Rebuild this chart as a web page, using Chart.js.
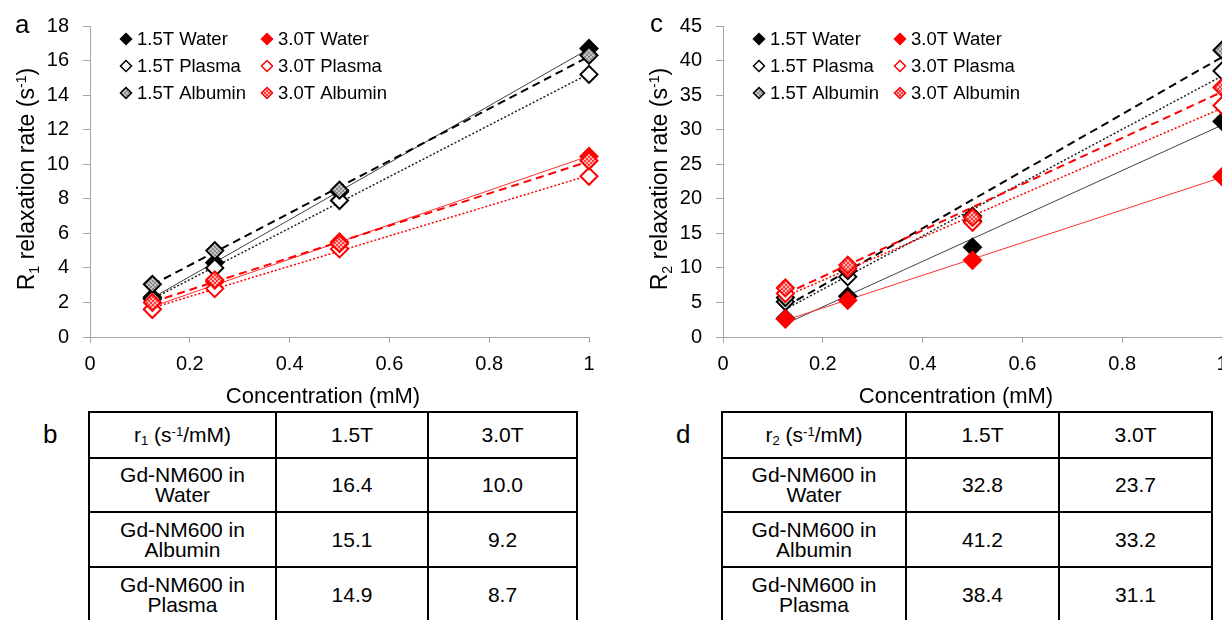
<!DOCTYPE html>
<html>
<head>
<meta charset="utf-8">
<title>Gd-NM600 relaxivity</title>
<script src="https://cdn.jsdelivr.net/npm/chart.js@4.4.1/dist/chart.umd.min.js"></script>
<style>
  html, body { margin: 0; padding: 0; background: #fff; }
  body { position: relative; width: 1222px; height: 620px; overflow: hidden;
         font-family: "Liberation Sans", Arial, sans-serif; color: #000; }
  .plot { position: absolute; top: 0; }
  .tag { position: absolute; font-size: 26px; line-height: 26px; }
  table.rates { position: absolute; border-collapse: collapse; table-layout: fixed; font-size: 21px; }
  table.rates td { border: 2px solid #000; text-align: center; vertical-align: middle;
                   padding: 0; line-height: 20px; overflow: hidden; }
  sub, sup { font-size: 0.62em; line-height: 0; }
  sup { vertical-align: 0.5em; }
  sub { vertical-align: -0.25em; }
</style>
</head>
<body>
<canvas id="chartR1" class="plot" style="left:0px" width="620" height="410"></canvas>
<canvas id="chartR2" class="plot" style="left:633px" width="620" height="410"></canvas>
<div class="tag" style="left:15px;top:11px">a</div>
<div class="tag" style="left:650px;top:10px">c</div>
<div class="tag" style="left:43px;top:421px">b</div>
<div class="tag" style="left:676px;top:421px">d</div>
<table class="rates" id="tableR1" style="left:88px;top:411px;width:488px"></table>
<table class="rates" id="tableR2" style="left:721px;top:411px;width:490px"></table>
<script>
// Gd-NM600 concentrations (mM)
const concentration = [0.125, 0.25, 0.5, 1];
const seriesNames = ['1.5T Water', '1.5T Plasma', '1.5T Albumin', '3.0T Water', '3.0T Plasma', '3.0T Albumin'];

// Longitudinal relaxation rate R1 (s^-1)
const r1Water15   = [2.3, 4.3, 8.4, 16.7];
const r1Plasma15  = [2.2, 4.0, 7.9, 15.2];
const r1Albumin15 = [3.05, 5.0, 8.5, 16.3];
const r1Water30   = [1.6, 3.2, 5.5, 10.45];
const r1Plasma30  = [1.6, 2.8, 5.1, 9.3];
const r1Albumin30 = [2.0, 3.3, 5.4, 10.2];

// Transverse relaxation rate R2 (s^-1)
const r2Water15   = [2.7, 5.9, 13.0, 31.2];
const r2Plasma15  = [5.1, 8.7, 16.8, 38.5];
const r2Albumin15 = [5.7, 9.6, 17.5, 41.5];
const r2Water30   = [2.6, 5.3, 11.1, 23.2];
const r2Plasma30  = [6.3, 9.9, 16.6, 33.5];
const r2Albumin30 = [7.1, 10.4, 17.3, 36.1];

// Axis tick labels
const xTickLabels  = ['0', '0.2', '0.4', '0.6', '0.8', '1'];
const r1TickLabels = ['0', '2', '4', '6', '8', '10', '12', '14', '16', '18'];
const r2TickLabels = ['0', '5', '10', '15', '20', '25', '30', '35', '40', '45'];

// Relaxivity tables (s^-1/mM)
const fieldLabels = ['1.5T', '3.0T'];
const tableMedia  = ['Water', 'Albumin', 'Plasma'];
const r1At15T = [16.4, 15.1, 14.9];
const r1At30T = [10.0, 9.2, 8.7];
const r2At15T = [32.8, 41.2, 38.4];
const r2At30T = [23.7, 33.2, 31.1];

const FONT = '"Liberation Sans", Arial, sans-serif';

function dither(base, dot) {
  const c = document.createElement('canvas');
  c.width = 4; c.height = 4;
  const g = c.getContext('2d');
  g.fillStyle = base; g.fillRect(0, 0, 4, 4);
  g.fillStyle = dot; g.fillRect(0, 0, 2, 2); g.fillRect(2, 2, 2, 2);
  return g.createPattern(c, 'repeat');
}

const grayFill = dither('#c4c4c4', '#8c8c8c');
const pinkFill = dither('#ffb4b4', '#ff3a3a');

// marker + trendline look per series
const looks = [
  { fill: '#000000', edge: '#000000', line: '#404040', width: 1,   dash: [] },
  { fill: '#ffffff', edge: '#000000', line: '#202020', width: 1.5, dash: [2, 2] },
  { fill: grayFill,  edge: '#000000', line: '#000000', width: 2,   dash: [8, 5] },
  { fill: '#ff0000', edge: '#ff0000', line: '#ff3030', width: 1,   dash: [] },
  { fill: '#ffffff', edge: '#ff0000', line: '#ff0000', width: 1.5, dash: [2, 2] },
  { fill: pinkFill,  edge: '#ff0000', line: '#ff0000', width: 2,   dash: [8, 5] }
];

function fitLine(xs, ys) {
  const n = xs.length;
  const mx = xs.reduce((a, b) => a + b, 0) / n;
  const my = ys.reduce((a, b) => a + b, 0) / n;
  let sxy = 0, sxx = 0;
  for (let i = 0; i < n; i++) { sxy += (xs[i] - mx) * (ys[i] - my); sxx += (xs[i] - mx) ** 2; }
  const slope = sxy / sxx;
  return { slope, intercept: my - slope * mx };
}

function diamond(ctx, x, y, r, fill, edge, lw) {
  ctx.beginPath();
  ctx.moveTo(x, y - r); ctx.lineTo(x + r, y); ctx.lineTo(x, y + r); ctx.lineTo(x - r, y);
  ctx.closePath();
  ctx.fillStyle = fill; ctx.fill();
  ctx.lineWidth = lw; ctx.strokeStyle = edge; ctx.stroke();
}

// text with sub/superscript pieces, centred on the current origin
function richText(ctx, parts, size) {
  const widths = parts.map(p => {
    ctx.font = `${(p.sub || p.sup) ? size * 0.62 : size}px ${FONT}`;
    return ctx.measureText(p.t).width;
  });
  const total = widths.reduce((a, b) => a + b, 0);
  let x = -total / 2;
  const base = size * 0.36;
  ctx.textAlign = 'left';
  ctx.textBaseline = 'alphabetic';
  parts.forEach((p, i) => {
    ctx.font = `${(p.sub || p.sup) ? size * 0.62 : size}px ${FONT}`;
    const dy = p.sub ? size * 0.22 : p.sup ? -size * 0.38 : 0;
    ctx.fillText(p.t, x, base + dy);
    x += widths[i];
  });
}

function decorations(yTitle) {
  return {
    id: 'decorations',
    afterDraw(chart) {
      const ctx = chart.ctx;
      ctx.save();
      ctx.fillStyle = '#000';
      // axis titles
      ctx.save();
      ctx.translate(323, 395);
      richText(ctx, [{ t: 'Concentration (mM)' }], 22);
      ctx.restore();
      ctx.save();
      ctx.translate(26, 179);
      ctx.rotate(-Math.PI / 2);
      richText(ctx, yTitle, 23);
      ctx.restore();
      // legend: two columns, three rows
      const colMarker = [126, 267], colText = [137, 278], rowY = [39, 66, 93];
      seriesNames.forEach((name, i) => {
        const col = i < 3 ? 0 : 1, row = i % 3;
        diamond(ctx, colMarker[col], rowY[row], 5.5, looks[i].fill, looks[i].edge, 1.5);
        ctx.fillStyle = '#000';
        ctx.font = `18.5px ${FONT}`;
        ctx.textAlign = 'left';
        ctx.textBaseline = 'middle';
        ctx.fillText(name, colText[col], rowY[row] + 1);
      });
      ctx.restore();
    }
  };
}

function makeChart(canvasId, series, yMax, yStep, yTicks, yTitle) {
  const markers = series.map((ys, i) => ({
    label: seriesNames[i],
    data: concentration.map((x, k) => ({ x, y: ys[k] })),
    showLine: false,
    pointStyle: 'rectRot',
    pointRadius: 8.5,
    pointHoverRadius: 8.5,
    pointBackgroundColor: looks[i].fill,
    pointBorderColor: looks[i].edge,
    pointBorderWidth: 2,
    order: 10 - i,
    clip: false
  }));
  const trends = series.map((ys, i) => {
    const f = fitLine(concentration, ys);
    const ends = [concentration[0], concentration[concentration.length - 1]];
    return {
      label: seriesNames[i] + ' fit',
      data: ends.map(x => ({ x, y: f.intercept + f.slope * x })),
      showLine: true,
      pointRadius: 0,
      borderColor: looks[i].line,
      borderWidth: looks[i].width,
      borderDash: looks[i].dash,
      fill: false,
      order: 30 - i,
      clip: false
    };
  });
  const tickFont = { family: FONT, size: 20 };
  return new Chart(document.getElementById(canvasId), {
    type: 'scatter',
    data: { datasets: trends.concat(markers) },
    plugins: [decorations(yTitle)],
    options: {
      responsive: false,
      animation: false,
      events: [],
      layout: { padding: { top: 24, right: 31, left: 0, bottom: 0 } },
      plugins: { legend: { display: false }, tooltip: { enabled: false } },
      scales: {
        x: {
          type: 'linear', min: 0, max: 1,
          ticks: { stepSize: 0.2, padding: 9, color: '#000', font: tickFont, maxRotation: 0,
                   autoSkip: false, callback: (v, i) => xTickLabels[i] },
          grid: { drawOnChartArea: false, tickLength: 6, color: '#a6a6a6', lineWidth: 1 },
          border: { color: '#a6a6a6', width: 1 },
          afterFit: s => { s.height = 73; }
        },
        y: {
          type: 'linear', min: 0, max: yMax,
          ticks: { stepSize: yStep, padding: 14, color: '#000', font: tickFont,
                   autoSkip: false, callback: (v, i) => yTicks[i] },
          grid: { drawOnChartArea: false, tickLength: 7, color: '#a6a6a6', lineWidth: 1 },
          border: { color: '#a6a6a6', width: 1 },
          afterFit: s => { s.width = 90; }
        }
      }
    }
  });
}

makeChart('chartR1',
  [r1Water15, r1Plasma15, r1Albumin15, r1Water30, r1Plasma30, r1Albumin30],
  18, 2, r1TickLabels,
  [{ t: 'R' }, { t: '1', sub: true }, { t: ' relaxation rate (s' }, { t: '-1', sup: true }, { t: ')' }]);

makeChart('chartR2',
  [r2Water15, r2Plasma15, r2Albumin15, r2Water30, r2Plasma30, r2Albumin30],
  45, 5, r2TickLabels,
  [{ t: 'R' }, { t: '2', sub: true }, { t: ' relaxation rate (s' }, { t: '-1', sup: true }, { t: ')' }]);

function fillTable(id, symbol, col15, col30, widths, heights) {
  let html = '<colgroup>' + widths.map(w => `<col style="width:${w}px">`).join('') + '</colgroup>';
  html += `<tr style="height:${heights[0]}px"><td>${symbol}</td><td>${fieldLabels[0]}</td><td>${fieldLabels[1]}</td></tr>`;
  tableMedia.forEach((m, k) => {
    html += `<tr style="height:${heights[k + 1]}px"><td>Gd-NM600 in<br>${m}</td>` +
            `<td>${col15[k].toFixed(1)}</td><td>${col30[k].toFixed(1)}</td></tr>`;
  });
  document.getElementById(id).innerHTML = html;
}

fillTable('tableR1', 'r<sub>1</sub> (s<sup>-1</sup>/mM)', r1At15T, r1At30T, [187, 152, 149], [46, 54, 55, 56]);
fillTable('tableR2', 'r<sub>2</sub> (s<sup>-1</sup>/mM)', r2At15T, r2At30T, [184, 153, 153], [46, 54, 55, 56]);
</script>
</body>
</html>
